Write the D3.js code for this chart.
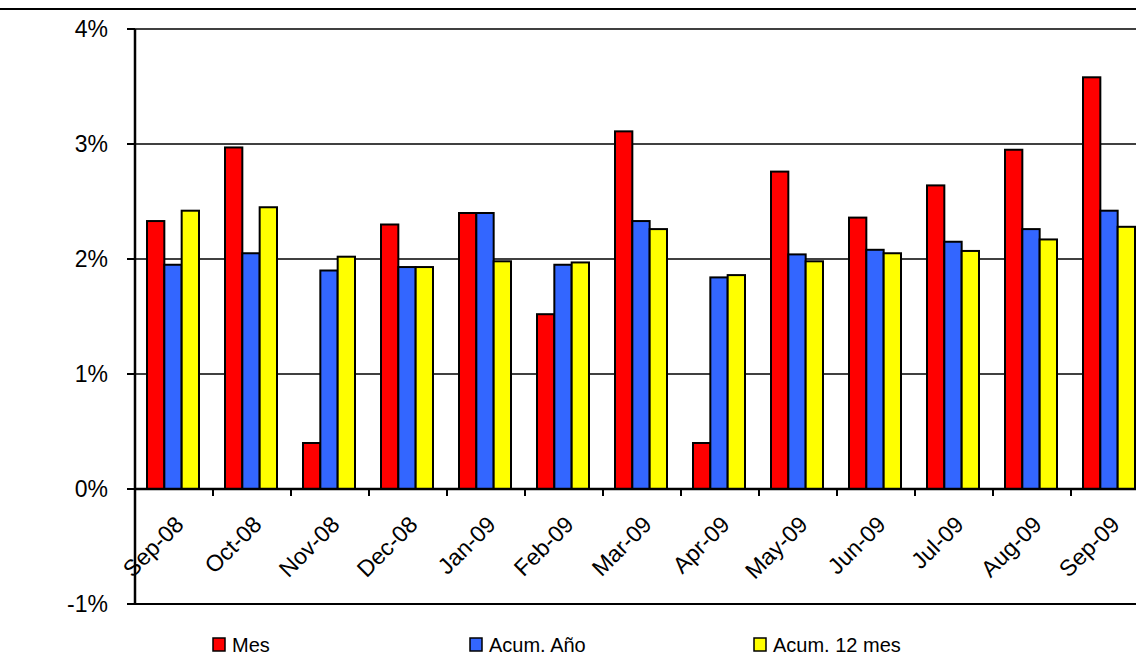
<!DOCTYPE html>
<meta charset="utf-8">
<script src="https://d3js.org/d3.v7.min.js"></script>
<style>body{margin:0;background:#fff;} text{font-family:"Liberation Sans",Arial,sans-serif;fill:#000;}</style>
<div id="chart"></div>
<script>
// data (percent)
var months = ["Sep-08","Oct-08","Nov-08","Dec-08","Jan-09","Feb-09","Mar-09","Apr-09","May-09","Jun-09","Jul-09","Aug-09","Sep-09"];
var mes    = [2.33, 2.97, 0.40, 2.30, 2.40, 1.52, 3.11, 0.40, 2.76, 2.36, 2.64, 2.95, 3.58];
var acumAno = [1.95, 2.05, 1.90, 1.93, 2.40, 1.95, 2.33, 1.84, 2.04, 2.08, 2.15, 2.26, 2.42];
var acum12 = [2.42, 2.45, 2.02, 1.93, 1.98, 1.97, 2.26, 1.86, 1.98, 2.05, 2.07, 2.17, 2.28];
var seriesNames = ["Mes", "Acum. Año", "Acum. 12 mes"];
var colors = ["#ff0000", "#3366ff", "#ffff00"];
var yTicks = [-1, 0, 1, 2, 3, 4];

var W = 1136, H = 656;
var svg = d3.select("#chart").append("svg").attr("width", W).attr("height", H);

var x = d3.scaleBand().domain(months).range([135, 135 + 78 * 13]);
var y = d3.scaleLinear().domain([-1, 4]).range([604, 29]);
var xs = d3.scaleBand().domain(seriesNames).range([12, 64]);

// top border line
svg.append("line").attr("x1", 0).attr("x2", W).attr("y1", 9).attr("y2", 9).attr("stroke", "#000").attr("stroke-width", 2);

// gridlines
svg.append("g").selectAll("line").data([1, 2, 3, 4]).enter().append("line")
  .attr("x1", 135).attr("x2", W).attr("y1", d => y(d)).attr("y2", d => y(d))
  .attr("stroke", "#000").attr("stroke-width", 1.5);

// y axis labels
svg.append("g").selectAll("text").data(yTicks).enter().append("text")
  .attr("x", 108).attr("y", d => y(d) + 8).attr("text-anchor", "end")
  .attr("font-size", 23).text(d => d + "%");
svg.append("g").selectAll("line").data(yTicks).enter().append("line")
  .attr("x1", 127).attr("x2", 135).attr("y1", d => y(d)).attr("y2", d => y(d))
  .attr("stroke", "#000").attr("stroke-width", 2);

// bars
var table = months.map((m, i) => ({month: m, vals: [mes[i], acumAno[i], acum12[i]]}));
svg.append("g").selectAll("g").data(table).enter().append("g")
  .attr("transform", d => "translate(" + x(d.month) + ",0)")
  .selectAll("rect")
  .data(d => d.vals.map((v, j) => ({key: seriesNames[j], value: v, c: colors[j]})))
  .enter().append("rect")
    .attr("x", d => xs(d.key))
    .attr("width", xs.bandwidth())
    .attr("y", d => y(d.value))
    .attr("height", d => y(0) - y(d.value))
    .attr("fill", d => d.c)
    .attr("stroke", "#000").attr("stroke-width", 2);

// zero line with ticks
svg.append("line").attr("x1", 135).attr("x2", W).attr("y1", y(0)).attr("y2", y(0)).attr("stroke", "#000").attr("stroke-width", 2.5);
svg.append("g").selectAll("line").data(months.slice(1)).enter().append("line")
  .attr("x1", d => x(d)).attr("x2", d => x(d)).attr("y1", y(0)).attr("y2", y(0) + 7)
  .attr("stroke", "#000").attr("stroke-width", 2);
// bottom line and y axis
svg.append("line").attr("x1", 135).attr("x2", W).attr("y1", y(-1)).attr("y2", y(-1)).attr("stroke", "#000").attr("stroke-width", 2);
svg.append("line").attr("x1", 135).attr("x2", 135).attr("y1", y(4)).attr("y2", y(-1)).attr("stroke", "#000").attr("stroke-width", 2.5);

// month labels
svg.append("g").selectAll("text").data(months).enter().append("text")
  .attr("transform", d => "translate(" + (x(d) + 50) + ",526) rotate(-45)")
  .attr("text-anchor", "end").attr("font-size", 23).text(d => d);

// legend
var legX = [213, 470, 754];
var leg = svg.append("g").selectAll("g").data(seriesNames).enter().append("g")
  .attr("transform", (d, i) => "translate(" + legX[i] + ",638)");
leg.append("rect").attr("width", 12).attr("height", 13).attr("fill", (d, i) => colors[i]).attr("stroke", "#000").attr("stroke-width", 1.5);
leg.append("text").attr("x", 19).attr("y", 14).attr("font-size", 20).text(d => d);
</script>
